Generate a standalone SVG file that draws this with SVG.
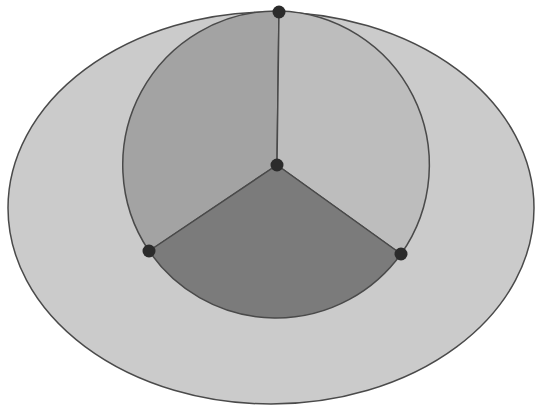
<svg xmlns="http://www.w3.org/2000/svg" width="543" height="410" viewBox="0 0 543 410">
<style>
.edge{stroke:#4a4a4a;stroke-width:1.5;stroke-linejoin:round}
.dot{fill:#2b2b2b}
</style>
<rect width="543" height="410" fill="#ffffff"/>
<g id="outer">
<ellipse cx="271" cy="208" rx="263" ry="196" fill="#cbcbcb" class="edge"/>
</g>
<g id="sector-left">
<path d="M277,165 L149,251 A154,154 0 0,1 279,11 Z" fill="#a3a3a3" class="edge"/>
</g>
<g id="sector-right">
<path d="M277,165 L279,11 A154,154 0 0,1 401,254 Z" fill="#bdbdbd" class="edge"/>
</g>
<g id="sector-bottom">
<path d="M277,165 L401,254 A154,154 0 0,1 149,251 Z" fill="#7b7b7b" class="edge"/>
</g>
<g id="points">
<circle cx="279" cy="12" r="6.5" class="dot"/>
<circle cx="277" cy="165" r="6.5" class="dot"/>
<circle cx="149" cy="251" r="6.5" class="dot"/>
<circle cx="401" cy="254" r="6.5" class="dot"/>
</g>
</svg>
